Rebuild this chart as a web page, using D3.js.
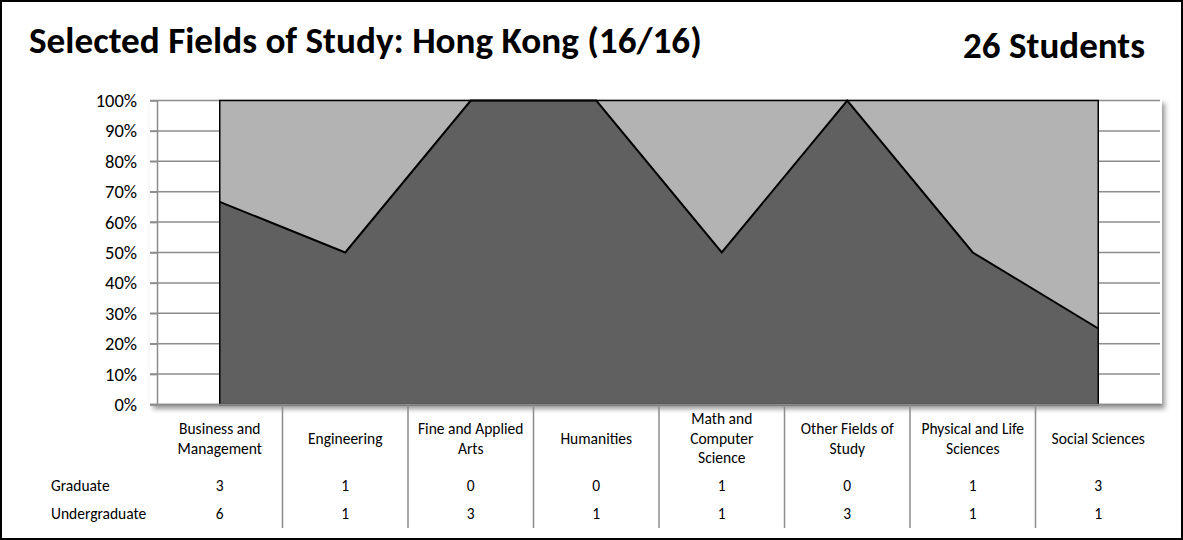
<!DOCTYPE html>
<html>
<head>
<meta charset="utf-8">
<script src="https://cdn.jsdelivr.net/npm/d3@7"></script>
<style>
  body { margin: 0; background: #fff; }
  svg { display: block; font-family: Carlito, Calibri, Lato, "Open Sans", sans-serif; }
</style>
</head>
<body>
<div id="chart"></div>
<script>
// Fields of study, Hong Kong
const categories = [
  "Business and\nManagement",
  "Engineering",
  "Fine and Applied\nArts",
  "Humanities",
  "Math and\nComputer\nScience",
  "Other Fields of\nStudy",
  "Physical and Life\nSciences",
  "Social Sciences"
];
const graduate = [3, 1, 0, 0, 1, 0, 1, 3];
const undergraduate = [6, 1, 3, 1, 1, 3, 1, 1];
const rowNames = ["Graduate", "Undergraduate"];
const titleText = "Selected Fields of Study: Hong Kong (16/16)";

const W = 1183, H = 540;
const svg = d3.select('#chart').append('svg')
  .attr('width', W)
  .attr('height', H);

// drop shadow for the plot box
const defs = svg.append('defs');
defs.append('filter').attr('id', 'shadow')
  .attr('x', '-5%').attr('y', '-5%').attr('width', '110%').attr('height', '115%')
  .append('feDropShadow')
  .attr('dx', 3).attr('dy', 4).attr('stdDeviation', 2.5)
  .attr('flood-color', '#000').attr('flood-opacity', 0.4);

// outer frame
svg.append('rect')
  .attr('x', 1).attr('y', 1)
  .attr('width', W - 2).attr('height', H - 2)
  .attr('fill', 'none').attr('stroke', '#000').attr('stroke-width', 2);

// fit text to a measured width
function fitWidth(sel, target) {
  const w = sel.node().getComputedTextLength();
  const fs = parseFloat(sel.attr('font-size'));
  sel.attr('font-size', fs * target / w);
}

const title = svg.append('text')
  .attr('x', 29).attr('y', 53)
  .attr('font-size', 30).attr('font-weight', 'bold')
  .text(titleText);
fitWidth(title, 673);

const total = d3.sum(graduate) + d3.sum(undergraduate);
const students = svg.append('text')
  .attr('x', 1145).attr('y', 58)
  .attr('text-anchor', 'end')
  .attr('font-size', 30).attr('font-weight', 'bold')
  .text(total + ' Students');
fitWidth(students, 182);

// scales
const x = d3.scaleBand().domain(categories).range([157, 1161]);
const cx = c => x(c) + x.bandwidth() / 2;
const y = d3.scaleLinear().domain([0, 1]).range([404.5, 100.5]);

// plot box
svg.append('rect')
  .attr('x', 150).attr('y', 99)
  .attr('width', 1162 - 150).attr('height', 405 - 99)
  .attr('fill', '#fff')
  .attr('filter', 'url(#shadow)');

// gridlines
svg.append('g').selectAll('line')
  .data(y.ticks(10))
  .join('line')
  .attr('x1', 150).attr('x2', 1160)
  .attr('y1', d => y(d)).attr('y2', d => y(d))
  .attr('stroke', '#8c8c8c').attr('stroke-width', 1.5);

// y axis
const yAxis = svg.append('g')
  .attr('transform', 'translate(157,0)')
  .call(d3.axisLeft(y).ticks(10, '.0%').tickSizeInner(7).tickSizeOuter(0).tickPadding(13));
yAxis.selectAll('line, path').attr('stroke', '#8c8c8c').attr('stroke-width', 1.5);
yAxis.selectAll('text')
  .attr('font-family', 'Carlito, Calibri, Lato, sans-serif')
  .attr('font-size', 18.5).attr('fill', '#000');

// stacked shares: undergraduate at bottom, graduate on top
const rows = categories.map((c, i) => ({ cat: c, undergraduate: undergraduate[i], graduate: graduate[i] }));
const series = d3.stack()
  .keys(['undergraduate', 'graduate'])
  .offset(d3.stackOffsetExpand)(rows);

const fills = { undergraduate: '#606060', graduate: '#b3b3b3' };
const area = d3.area()
  .x(d => cx(d.data.cat))
  .y0(d => y(d[0]))
  .y1(d => y(d[1]));

svg.append('g').selectAll('path')
  .data(series)
  .join('path')
  .attr('d', area)
  .attr('fill', d => fills[d.key]);

// boundary line and frame of the area
svg.append('path')
  .datum(series[0])
  .attr('d', d3.line().x(d => cx(d.data.cat)).y(d => y(d[1])))
  .attr('fill', 'none').attr('stroke', '#000').attr('stroke-width', 2);

svg.append('rect')
  .attr('x', cx(categories[0])).attr('y', y(1))
  .attr('width', cx(categories[categories.length - 1]) - cx(categories[0]))
  .attr('height', y(0) - y(1))
  .attr('fill', 'none').attr('stroke', '#000').attr('stroke-width', 1.5);

// x axis baseline
svg.append('line')
  .attr('x1', 150).attr('x2', 1162)
  .attr('y1', y(0)).attr('y2', y(0))
  .attr('stroke', '#8c8c8c').attr('stroke-width', 1.5);

// separators of the data table
svg.append('g').selectAll('line')
  .data(categories.slice(1))
  .join('line')
  .attr('x1', d => x(d)).attr('x2', d => x(d))
  .attr('y1', y(0)).attr('y2', 528)
  .attr('stroke', '#8c8c8c').attr('stroke-width', 1.5);

// category labels
const lineH = 19.5, catMid = 438.5, fs = 15.5;
svg.append('g').selectAll('text')
  .data(categories)
  .join('text')
  .attr('text-anchor', 'middle')
  .attr('font-size', fs)
  .each(function(c) {
    const lines = c.split('\n');
    const top = catMid - (lines.length - 1) * lineH / 2;
    d3.select(this).selectAll('tspan')
      .data(lines)
      .join('tspan')
      .attr('x', cx(c))
      .attr('y', (d, i) => top + i * lineH + fs * 0.35)
      .text(d => d);
  });

// data table rows
const tableRows = [graduate, undergraduate];
const rowY = [486, 514];
tableRows.forEach((vals, r) => {
  svg.append('text')
    .attr('x', 51).attr('y', rowY[r] + fs * 0.35)
    .attr('font-size', fs)
    .text(rowNames[r]);
  svg.append('g').selectAll('text')
    .data(vals)
    .join('text')
    .attr('x', (d, i) => cx(categories[i]))
    .attr('y', rowY[r] + fs * 0.35)
    .attr('text-anchor', 'middle')
    .attr('font-size', fs)
    .text(d => d);
});
</script>
</body>
</html>
